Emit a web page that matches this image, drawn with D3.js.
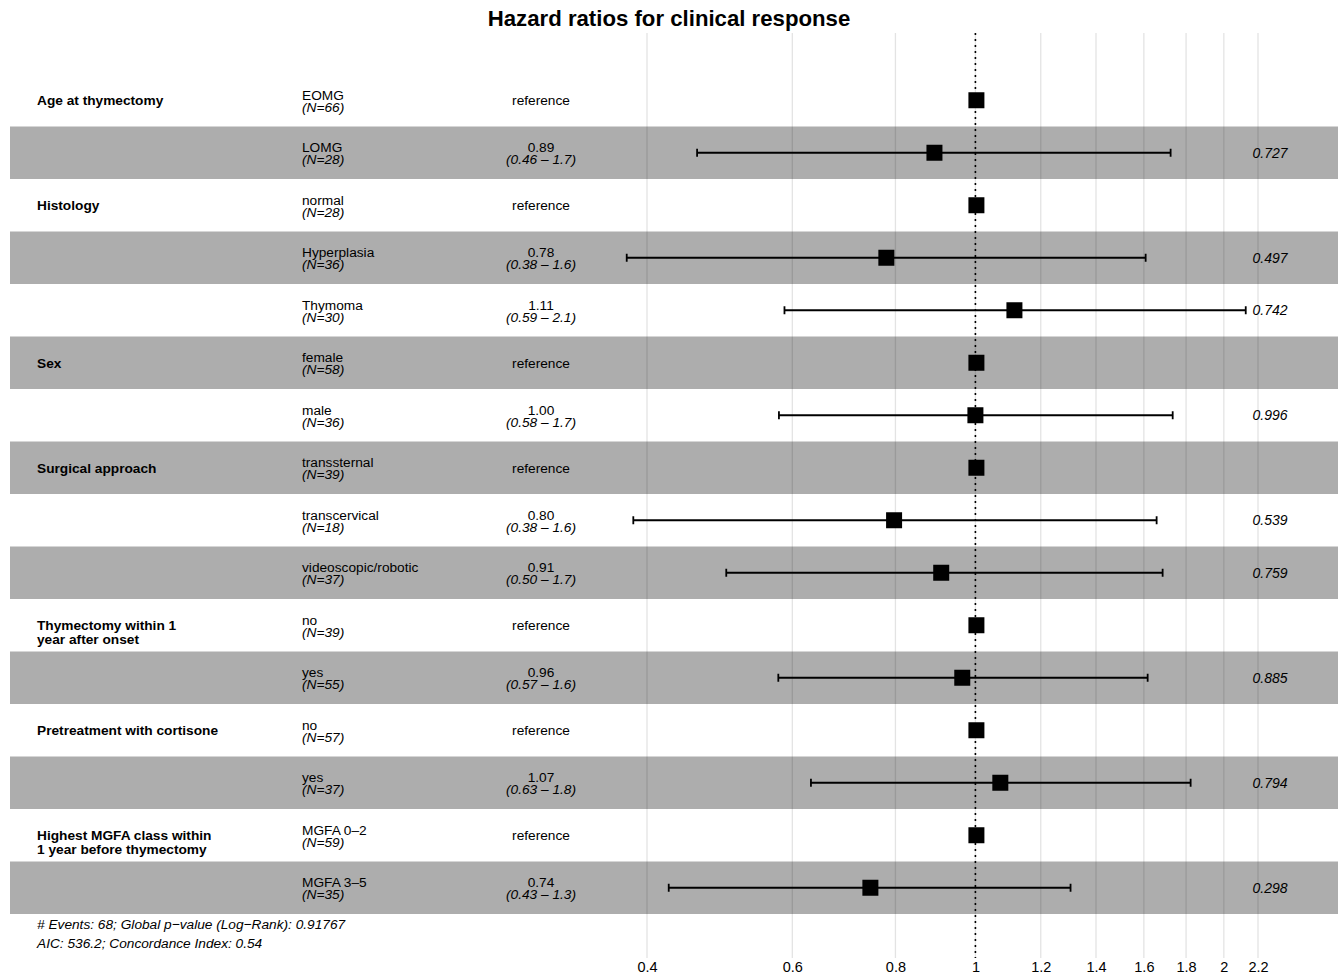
<!DOCTYPE html>
<html>
<head>
<meta charset="utf-8">
<script src="https://cdn.jsdelivr.net/npm/d3@7"></script>
<style>
  html, body { margin: 0; padding: 0; background: #fff; }
  svg { display: block; }
  text { font-family: "Liberation Sans", Arial, Helvetica, sans-serif; }
</style>
</head>
<body>
<svg id="chart" width="1339" height="978"></svg>
<script>
// ---- data ----
const variables = ["Age at thymectomy", "", "Histology", "", "", "Sex", "", "Surgical approach", "", "",
  "Thymectomy within 1\nyear after onset", "", "Pretreatment with cortisone", "",
  "Highest MGFA class within\n1 year before thymectomy", ""];
const levels = ["EOMG", "LOMG", "normal", "Hyperplasia", "Thymoma", "female", "male", "transsternal",
  "transcervical", "videoscopic/robotic", "no", "yes", "no", "yes", "MGFA 0\u20132", "MGFA 3\u20135"];
const nCounts = [66, 28, 28, 36, 30, 58, 36, 39, 18, 37, 39, 55, 57, 37, 59, 35];
const hrValues = [1, 0.892, 1, 0.780, 1.115, 1, 1.000, 1, 0.797, 0.909, 1, 0.964, 1, 1.072, 1, 0.746];
const ciLow  = [null, 0.460, null, 0.378, 0.587, null, 0.578, null, 0.385, 0.499, null, 0.577, null, 0.632, null, 0.425];
const ciHigh = [null, 1.724, null, 1.608, 2.126, null, 1.734, null, 1.658, 1.686, null, 1.617, null, 1.823, null, 1.304];
const hrLabels = ["reference", "0.89", "reference", "0.78", "1.11", "reference", "1.00", "reference",
  "0.80", "0.91", "reference", "0.96", "reference", "1.07", "reference", "0.74"];
const ciLabels = ["", "(0.46 \u2013 1.7)", "", "(0.38 \u2013 1.6)", "(0.59 \u2013 2.1)", "", "(0.58 \u2013 1.7)", "",
  "(0.38 \u2013 1.6)", "(0.50 \u2013 1.7)", "", "(0.57 \u2013 1.6)", "", "(0.63 \u2013 1.8)", "", "(0.43 \u2013 1.3)"];
const pValues = ["", "0.727", "", "0.497", "0.742", "", "0.996", "", "0.539", "0.759", "", "0.885", "", "0.794", "", "0.298"];
const tickValues = [0.4, 0.6, 0.8, 1, 1.2, 1.4, 1.6, 1.8, 2, 2.2];
const tickLabels = ["0.4", "0.6", "0.8", "1", "1.2", "1.4", "1.6", "1.8", "2", "2.2"];
const title = "Hazard ratios for clinical response";
const footnotes = ["# Events: 68; Global p\u2212value (Log\u2212Rank): 0.91767", "AIC: 536.2; Concordance Index: 0.54"];

// ---- drawing ----
const FS = 13.7;
const svg = d3.select("#chart");
const idx = d3.range(levels.length);
const y = d3.scaleBand().domain(idx).range([74, 914]).padding(0);
const x = d3.scaleLog().domain([0.4, 2.2]).range([647, 1258]);
const yc = i => y(i) + y.bandwidth() / 2;

// bands
svg.append("g").selectAll("rect").data(idx.filter(i => i % 2 === 1)).join("rect")
  .attr("x", 10).attr("width", 1328)
  .attr("y", i => y(i)).attr("height", y.bandwidth())
  .attr("fill", "#adadad");

// grid
const gridTop = 33, gridBot = 958;
svg.append("g").selectAll("line").data(tickValues).join("line")
  .attr("x1", d => x(d)).attr("x2", d => x(d))
  .attr("y1", gridTop).attr("y2", gridBot)
  .attr("stroke", "rgba(0,0,0,0.11)").attr("stroke-width", 1.3);

// reference dotted line
svg.append("line")
  .attr("x1", x(1)).attr("x2", x(1)).attr("y1", gridTop).attr("y2", gridBot)
  .attr("stroke", "#000").attr("stroke-width", 1.6).attr("stroke-dasharray", "2,4");

// error bars
const ci = idx.filter(i => ciLow[i] != null);
const eb = svg.append("g");
eb.selectAll("line.ci").data(ci).join("line").attr("class", "ci")
  .attr("x1", i => x(ciLow[i])).attr("x2", i => x(ciHigh[i]))
  .attr("y1", yc).attr("y2", yc)
  .attr("stroke", "#000").attr("stroke-width", 1.8);
["lo", "hi"].forEach(k => {
  eb.selectAll("line.cap" + k).data(ci).join("line").attr("class", "cap" + k)
    .attr("x1", i => x(k === "lo" ? ciLow[i] : ciHigh[i]))
    .attr("x2", i => x(k === "lo" ? ciLow[i] : ciHigh[i]))
    .attr("y1", i => yc(i) - 4).attr("y2", i => yc(i) + 4)
    .attr("stroke", "#000").attr("stroke-width", 1.8);
});

// points
const sq = 16;
svg.append("g").selectAll("rect").data(idx).join("rect")
  .attr("x", i => x(hrValues[i]) - sq / 2 + (ciLow[i] == null ? 1 : 0))
  .attr("y", i => yc(i) - sq / 2)
  .attr("width", sq).attr("height", sq).attr("fill", "#000");

// variable names
const vg = svg.append("g");
idx.forEach(i => {
  if (!variables[i]) return;
  const lines = variables[i].split("\n");
  const t = vg.append("text").attr("font-size", FS).attr("font-weight", "bold").attr("fill", "#000");
  const y0 = yc(i) + 5;
  lines.forEach((l, k) => t.append("tspan").attr("x", 37).attr("y", y0 + k * 14).text(l));
});

// levels + N
const lg = svg.append("g");
idx.forEach(i => {
  lg.append("text").attr("x", 302).attr("y", yc(i) - 0.5).attr("font-size", FS).text(levels[i]);
  lg.append("text").attr("x", 302).attr("y", yc(i) + 11.5).attr("font-size", FS).attr("font-style", "italic")
    .text("(N=" + nCounts[i] + ")");
});

// estimates
const eg = svg.append("g").attr("text-anchor", "middle");
idx.forEach(i => {
  if (ciLabels[i]) {
    eg.append("text").attr("x", 541).attr("y", yc(i) - 0.5).attr("font-size", FS).text(hrLabels[i]);
    eg.append("text").attr("x", 541).attr("y", yc(i) + 11.5).attr("font-size", FS).attr("font-style", "italic").text(ciLabels[i]);
  } else {
    eg.append("text").attr("x", 541).attr("y", yc(i) + 5).attr("font-size", FS).text(hrLabels[i]);
  }
});

// p-values
svg.append("g").attr("text-anchor", "middle").selectAll("text").data(idx.filter(i => pValues[i])).join("text")
  .attr("x", 1270).attr("y", i => yc(i) + 5).attr("font-size", 14).attr("font-style", "italic")
  .text(i => pValues[i]);

// axis
const axis = d3.axisBottom(x).tickValues(tickValues).tickFormat((d, k) => tickLabels[k]).tickSize(0).tickPadding(0);
const ax = svg.append("g").attr("transform", "translate(0,962)").call(axis);
ax.select(".domain").remove();
ax.selectAll("text").attr("font-size", 14.5).attr("fill", "#000").attr("dy", "0.71em")
  .attr("font-family", "'Liberation Sans', Arial, sans-serif");

// title
svg.append("text").attr("x", 669).attr("y", 26).attr("text-anchor", "middle")
  .attr("font-size", 22.2).attr("font-weight", "bold").text(title);

// footnotes
svg.append("g").selectAll("text").data(footnotes).join("text")
  .attr("x", 37).attr("y", (d, k) => 929 + k * 19).attr("font-size", 13.7).attr("font-style", "italic")
  .text(d => d);
</script>
</body>
</html>
